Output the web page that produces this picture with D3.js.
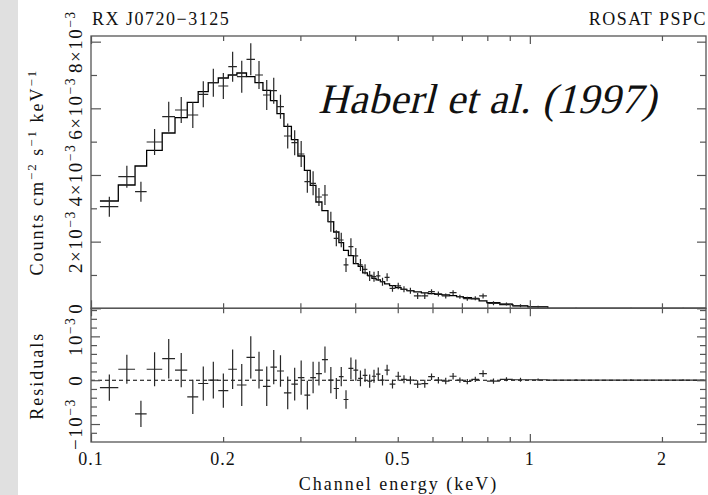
<!DOCTYPE html>
<html>
<head>
<meta charset="utf-8">
<script src="https://cdn.jsdelivr.net/npm/d3@7"></script>
<style>
    html, body { margin: 0; padding: 0; background: #fff; }
    svg { display: block; }
    text { font-family: "Liberation Serif", "Times New Roman", serif; fill: #111; }
</style>
</head>
<body>
<script>
// channel bin edges (keV), one more than the number of bins
var binEdges = [0.1048, 0.1154, 0.1260, 0.1339, 0.1453, 0.1554, 0.1657, 0.1755, 0.1850, 0.1950,
    0.2055, 0.2150, 0.2261, 0.2364, 0.2465, 0.2564, 0.2653, 0.2752, 0.2862, 0.2961,
    0.3064, 0.3159, 0.3255, 0.3359, 0.3467, 0.3573, 0.3672, 0.3763, 0.3860, 0.3962,
    0.4063, 0.4160, 0.4264, 0.4366, 0.4463, 0.4565, 0.4667, 0.4790, 0.4938, 0.5088,
    0.5245, 0.5442, 0.5659, 0.5865, 0.6075, 0.6302, 0.6562, 0.6808, 0.7048, 0.7357,
    0.7665, 0.7982, 0.8544, 0.9147, 0.9895, 1.099, 1.45, 1.95, 2.52];

// counts cm^-2 s^-1 keV^-1, in units of 1e-3
var counts = [3.05, 3.95, 3.50, 4.99, 5.75, 5.95, 5.80, 6.42, 6.77, 6.67,
    7.25, 6.95, 7.47, 7.00, 6.40, 6.53, 6.05, 5.17, 4.97, 4.63,
    3.80, 3.75, 3.34, 3.40, 2.60, 2.10, 2.05, 1.30, 1.85, 1.57,
    1.30, 1.17, 0.97, 0.95, 0.97, 0.80, 0.93, 0.60, 0.67, 0.57,
    0.53, 0.37, 0.37, 0.50, 0.43, 0.37, 0.47, 0.35, 0.29, 0.30,
    0.37, 0.15, 0.13, 0.08, 0.05, 0, 0, 0];

// 1 sigma errors, same units (also used for the residuals)
var countErrors = [0.30, 0.33, 0.30, 0.39, 0.45, 0.39, 0.39, 0.39, 0.42, 0.39,
    0.45, 0.48, 0.48, 0.42, 0.45, 0.39, 0.36, 0.375, 0.375, 0.39,
    0.33, 0.36, 0.27, 0.30, 0.30, 0.24, 0.22, 0.21, 0.25, 0.24,
    0.18, 0.15, 0.15, 0.15, 0.15, 0.12, 0.12, 0.10, 0.10, 0.09,
    0.09, 0.09, 0.09, 0.075, 0.075, 0.075, 0.075, 0.06, 0.06, 0.06,
    0.075, 0.06, 0.045, 0.045, 0.03, 0.02, 0.02, 0.02];

// folded model (histogram)
var model = [3.22, 3.70, 4.27, 4.74, 5.26, 5.72, 6.18, 6.50, 6.77, 6.91,
    7.00, 7.06, 6.95, 6.77, 6.54, 6.23, 5.84, 5.46, 5.06, 4.57,
    4.14, 3.69, 3.19, 2.93, 2.60, 2.29, 1.97, 1.74, 1.58, 1.34,
    1.26, 1.06, 0.99, 0.90, 0.85, 0.80, 0.73, 0.68, 0.62, 0.57,
    0.53, 0.49, 0.46, 0.44, 0.42, 0.40, 0.38, 0.35, 0.32, 0.28,
    0.22, 0.17, 0.11, 0.07, 0.04, 0, 0, 0];

// data - model, units of 1e-3
var residuals = [-0.17, 0.25, -0.77, 0.25, 0.49, 0.23, -0.38, -0.075, 0, -0.24,
    0.25, -0.11, 0.52, 0.23, -0.14, 0.30, 0.21, -0.29, -0.09, 0.06,
    -0.34, 0.06, 0.15, 0.47, 0, -0.19, 0.08, -0.44, 0.27, 0.23,
    0.04, 0.11, -0.02, 0.09, 0.14, 0, 0.23, -0.09, 0.09, 0.02,
    0, -0.09, -0.08, 0.08, 0, -0.02, 0.09, 0, -0.03, 0.02,
    0.15, -0.02, 0.02, 0.01, 0.01, 0, 0, 0];

var xLabels = [0.1, 0.2, 0.5, 1, 2];
var xMajor = [0.1, 1];
var xMinor = [0.2, 0.3, 0.4, 0.5, 0.6, 0.7, 0.8, 0.9, 2];
var yTopMajor = [0, 2, 4, 6, 8];
var yTopMinor = [1, 3, 5, 7];
var yTopLabels = [['0'], ['2×10', '−3'], ['4×10', '−3'], ['6×10', '−3'], ['8×10', '−3']];
var yResMajor = [-1, 0, 1];
var yResMinor = [-1.2, -0.8, -0.6, -0.4, -0.2, 0.2, 0.4, 0.6, 0.8, 1.2, 1.4, 1.6];
var yResLabels = [['−10', '−3'], ['0'], ['10', '−3']];

;(() => {
    var width = 708, height = 495;
    var left = 91, right = 706, top = 36, mid = 308.3, bottom = 442;
    var ink = '#262626', frame = '#555';

    var svg = d3.select('body')
        .append('svg')
        .attr('width', width)
        .attr('height', height);

    // grey strip on the left of the scan
    svg.append('rect')
        .attr('x', 0).attr('y', 0)
        .attr('width', 18).attr('height', height)
        .attr('fill', '#e0e0e0');

    var x = d3.scaleLog().domain([0.1, 2.52]).range([left, right]),
        yTop = d3.scaleLinear().domain([0, 8.17]).range([mid, top]),
        yRes = d3.scaleLinear().domain([-1.41, 1.64]).range([bottom, mid]);

    var bins = counts.map((c, i) => ({
        lo: binEdges[i], hi: binEdges[i + 1], c: c,
        e: countErrors[i], m: model[i], r: residuals[i]
    }));

    // clip regions
    var defs = svg.append('defs');
    defs.append('clipPath').attr('id', 'clipTop').append('rect')
        .attr('x', left).attr('y', top).attr('width', right - left).attr('height', mid - top);
    defs.append('clipPath').attr('id', 'clipRes').append('rect')
        .attr('x', left).attr('y', mid).attr('width', right - left).attr('height', bottom - mid);

    // BEGIN top panel

    var gTop = svg.append('g').attr('clip-path', 'url(#clipTop)');

    var stepLine = d3.line()
        .x(d => x(d[0]))
        .y(d => yTop(d[1]))
        .curve(d3.curveStepAfter);
    var stepPts = bins.map(b => [b.lo, b.m]);
    stepPts.push([bins[bins.length - 1].hi, bins[bins.length - 1].m]);
    gTop.append('path')
        .attr('d', stepLine(stepPts))
        .attr('fill', 'none')
        .attr('stroke', '#000')
        .attr('stroke-width', 1.3);

    crosses(gTop, yTop, b => b.c);

    // END top panel

    // BEGIN residual panel

    var gRes = svg.append('g').attr('clip-path', 'url(#clipRes)');
    gRes.append('line')
        .attr('x1', left).attr('x2', right)
        .attr('y1', yRes(0)).attr('y2', yRes(0))
        .attr('stroke', '#000')
        .attr('stroke-width', 1.1)
        .attr('stroke-dasharray', '4,3');
    crosses(gRes, yRes, b => b.r);

    // END residual panel

    function crosses(g, y, val) {
        g.selectAll('line.h')
            .data(bins)
            .enter()
            .append('line')
            .classed('h', true)
            .attr('x1', d => x(d.lo))
            .attr('x2', d => x(d.hi))
            .attr('y1', d => y(val(d)))
            .attr('y2', d => y(val(d)))
            .attr('stroke', ink)
            .attr('stroke-width', 1.2);
        g.selectAll('line.v')
            .data(bins)
            .enter()
            .append('line')
            .classed('v', true)
            .attr('x1', d => x((d.lo + d.hi) / 2))
            .attr('x2', d => x((d.lo + d.hi) / 2))
            .attr('y1', d => y(val(d) - d.e))
            .attr('y2', d => y(val(d) + d.e))
            .attr('stroke', ink)
            .attr('stroke-width', 1.2);
    }

    // frames
    [[top, mid], [mid, bottom]].forEach(p => {
        svg.append('rect')
            .attr('x', left).attr('y', p[0])
            .attr('width', right - left).attr('height', p[1] - p[0])
            .attr('fill', 'none')
            .attr('stroke', frame)
            .attr('stroke-width', 1.3);
    });

    // ticks, all pointing inwards
    function ticks(axis, values, size, tx, ty) {
        var g = svg.append('g')
            .attr('transform', 'translate(' + tx + ',' + ty + ')')
            .call(axis.tickValues(values).tickSize(size).tickSizeOuter(0).tickFormat(''));
        g.select('.domain').remove();
        g.selectAll('line').attr('stroke', frame).attr('stroke-width', 1.2);
    }
    [[d3.axisBottom, top], [d3.axisTop, mid], [d3.axisBottom, mid], [d3.axisTop, bottom]].forEach(a => {
        ticks(a[0](x), xMinor, 5, 0, a[1]);
        ticks(a[0](x), xMajor, 8, 0, a[1]);
    });
    ticks(d3.axisRight(yTop), yTopMinor, 6, left, 0);
    ticks(d3.axisRight(yTop), yTopMajor, 10, left, 0);
    ticks(d3.axisLeft(yTop), yTopMinor, 6, right, 0);
    ticks(d3.axisLeft(yTop), yTopMajor, 9, right, 0);
    ticks(d3.axisRight(yRes), yResMinor, 6, left, 0);
    ticks(d3.axisRight(yRes), yResMajor, 9, left, 0);
    ticks(d3.axisLeft(yRes), yResMinor, 6, right, 0);
    ticks(d3.axisLeft(yRes), yResMajor, 9, right, 0);

    // text with superscripts: parts = [normal, sup, normal, sup, ...]
    function label(t, parts, size) {
        parts.forEach((p, i) => {
            var sup = i % 2 == 1;
            t.append('tspan')
                .attr('font-size', sup ? size * 0.72 : size)
                .attr('dy', i == 0 ? 0 : (sup ? -7 : 7))
                .text(p);
        });
        return t;
    }

    // x tick labels
    svg.selectAll('text.xl')
        .data(xLabels)
        .enter()
        .append('text')
        .attr('x', d => x(d))
        .attr('y', 465)
        .attr('text-anchor', 'middle')
        .attr('font-size', 18)
        .attr('letter-spacing', 1)
        .text(d => d);

    // y tick labels (rotated)
    yTopMajor.forEach((v, i) => {
        var t = svg.append('text')
            .attr('transform', 'translate(82,' + yTop(v) + ') rotate(-90)')
            .attr('text-anchor', 'middle')
            .attr('letter-spacing', 1.5);
        label(t, yTopLabels[i], 19);
    });
    yResMajor.forEach((v, i) => {
        var t = svg.append('text')
            .attr('transform', 'translate(82,' + yRes(v) + ') rotate(-90)')
            .attr('text-anchor', 'middle')
            .attr('letter-spacing', 1.5);
        label(t, yResLabels[i], 19);
    });

    // titles
    svg.append('text')
        .attr('x', 92).attr('y', 25)
        .attr('font-size', 18).attr('letter-spacing', 1.5)
        .text('RX J0720−3125');
    svg.append('text')
        .attr('x', 707).attr('y', 25)
        .attr('text-anchor', 'end')
        .attr('font-size', 18).attr('letter-spacing', 1.5)
        .text('ROSAT PSPC');
    svg.append('text')
        .attr('x', (left + right) / 2).attr('y', 490)
        .attr('text-anchor', 'middle')
        .attr('font-size', 18).attr('letter-spacing', 2)
        .text('Channel energy (keV)');

    label(svg.append('text')
        .attr('transform', 'translate(43,' + (top + mid) / 2 + ') rotate(-90)')
        .attr('text-anchor', 'middle')
        .attr('letter-spacing', 2),
        ['Counts cm', '−2', ' s', '−1', ' keV', '−1'], 18);

    svg.append('text')
        .attr('transform', 'translate(43,' + yRes(0.1) + ') rotate(-90)')
        .attr('text-anchor', 'middle')
        .attr('font-size', 18).attr('letter-spacing', 2)
        .text('Residuals');

    // annotation: no serif italic face installed, so slant the upright serif
    svg.append('text')
        .attr('transform', 'translate(318,113) skewX(-14)')
        .attr('font-size', 42)
        .attr('textLength', 338)
        .text('Haberl et al. (1997)');
})();
</script>
</body>
</html>
